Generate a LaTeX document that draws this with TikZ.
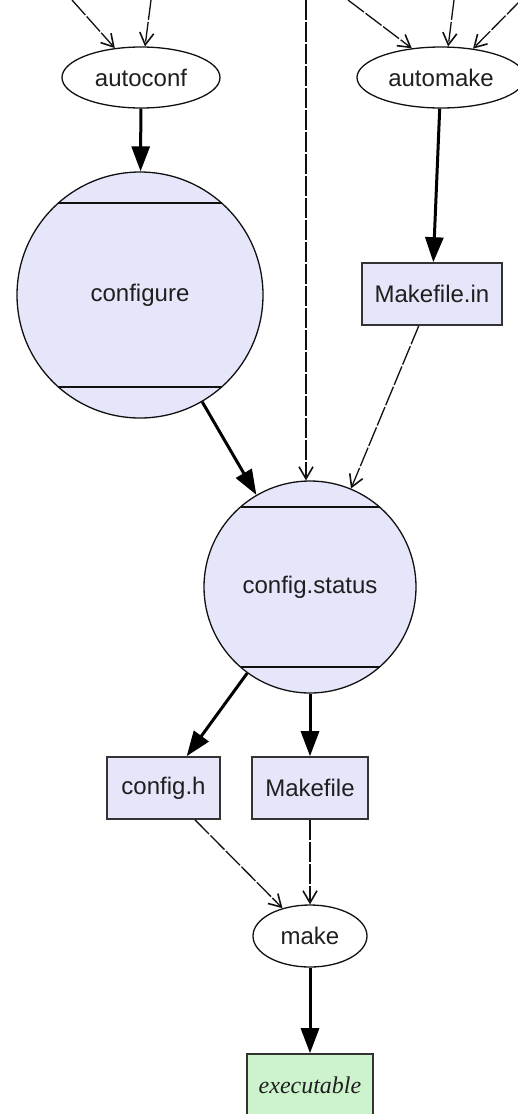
\documentclass[tikz,border=0pt]{standalone}
\usepackage{fontspec}
\setmainfont{Liberation Sans}
\newfontfamily\serifit{Liberation Serif}
\usetikzlibrary{shapes.geometric,arrows.meta}
\definecolor{lav}{HTML}{E6E6FA}
\definecolor{pgreen}{HTML}{CDF3CD}
\definecolor{edgecol}{HTML}{111111}
\tikzset{
  lbl/.style={font=\fontsize{24}{28}\selectfont, text=black!88},
  prog/.style={ellipse, draw=edgecol, line width=1.3pt, fill=white, inner sep=0pt, lbl},
  mcirc/.style={circle, draw=edgecol, line width=1.3pt, fill=lav, inner sep=0pt, lbl},
  filebox/.style={rectangle, draw=black!80, line width=1.6pt, fill=lav, inner sep=0pt, minimum height=62pt, lbl},
  thickarrow/.style={draw=black, line width=3pt, -{Triangle[length=25pt,width=18pt]}},
  dasharrow/.style={draw=edgecol, line width=1.3pt, dash pattern=on 20pt off 2pt, -{Straight Barb[length=12pt,width=14pt,line width=1.6pt]}},
  chord/.style={draw=edgecol, line width=1.3pt}
}
\begin{document}
\begin{tikzpicture}[x=1pt,y=-1pt]
\fill[white] (0,0) rectangle (517,1114);
\useasboundingbox (0,0) rectangle (517,1114);

% nodes
\node[prog, minimum width=158pt, minimum height=61pt] (autoconf) at (141,77.5) {autoconf};
\node[prog, minimum width=168pt, minimum height=61pt] (automake) at (441,77.5) {automake};
\node[mcirc, minimum size=246pt] (configure) at (140,295) {configure};
\node[filebox, minimum width=140pt] (makefilein) at (432,294) {Makefile.in};
\node[mcirc, minimum size=212pt] (cs) at (310,587) {config.status};
\node[filebox, minimum width=113pt] (configh) at (163.5,788) {config.h};
\node[filebox, minimum width=116pt] (makefile) at (310,788) {Makefile};
\node[prog, minimum width=114pt, minimum height=62pt] (make) at (310,936) {make};
\node[filebox, fill=pgreen, minimum width=126pt, font=\serifit\itshape\fontsize{24}{28}\selectfont] (exe) at (310,1085) {executable};

% chords of the Mcircle shapes
\draw[chord] ([shift={(-81.6,-92)}]configure.center) -- ([shift={(81.6,-92)}]configure.center);
\draw[chord] ([shift={(-81.6,92)}]configure.center) -- ([shift={(81.6,92)}]configure.center);
\draw[chord] ([shift={(-69.5,-80)}]cs.center) -- ([shift={(69.5,-80)}]cs.center);
\draw[chord] ([shift={(-69.5,80)}]cs.center) -- ([shift={(69.5,80)}]cs.center);

% free ends at the top
\coordinate (a1) at (72,0);
\coordinate (a2) at (151,0);
\coordinate (t3) at (306,0);
\coordinate (m1) at (348,0);
\coordinate (m2) at (454,0);
\coordinate (m3) at (521,0);

% incoming dashed edges
\draw[dasharrow] (a1) -- (autoconf);
\draw[dasharrow] (a2) -- (autoconf);
\draw[dasharrow] (m1) -- (automake.135.5);
\draw[dasharrow] (m2) -- (automake.77);
\draw[dasharrow] (m3) -- (automake.42.6);
\draw[dasharrow] (t3) -- (cs.north -| t3);

% main edges
\draw[thickarrow] (autoconf) -- (configure);
\draw[thickarrow] (automake) -- (makefilein);
\draw[thickarrow] (configure) -- (cs);
\draw[dasharrow] (makefilein) -- (cs);
\draw[thickarrow] (cs) -- (configh);
\draw[thickarrow] (cs) -- (makefile);
\draw[dasharrow] (configh) -- (make);
\draw[dasharrow] (makefile) -- (make);
\draw[thickarrow] (make) -- (exe);
\end{tikzpicture}
\end{document}
